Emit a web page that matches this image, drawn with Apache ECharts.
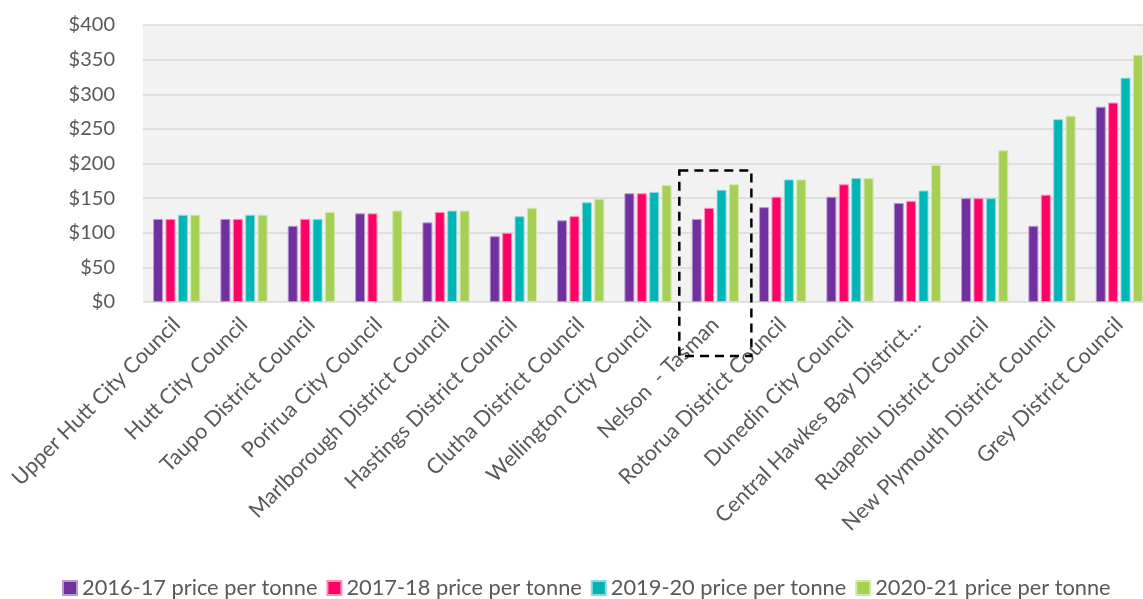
<!DOCTYPE html>
<html>
<head>
<meta charset="utf-8">
<script src="https://cdn.jsdelivr.net/npm/echarts@6/dist/echarts.min.js"></script>
<style>
html,body{margin:0;padding:0;background:#fff;}
#c{width:1143px;height:599px;}
</style>
</head>
<body>
<div id="c"></div>
<script>
const categories = [
  'Upper Hutt City Council','Hutt City Council','Taupo District Council','Porirua City Council',
  'Marlborough District Council','Hastings District Council','Clutha District Council',
  'Wellington City Council','Nelson  - Tasman','Rotorua District Council','Dunedin City Council',
  'Central Hawkes Bay District…','Ruapehu District Council','New Plymouth District Council','Grey District Council'
];
const seriesNames = ['2016-17 price per tonne','2017-18 price per tonne','2019-20 price per tonne','2020-21 price per tonne'];
const price2016 = [120,120,110,128,115,95,118,157,120,137,152,143,150,110,282];
const price2017 = [120,120,120,128,130,100,124,157,136,152,170,146,150,155,288];
const price2019 = [126,126,120,null,132,124,144,159,162,177,179,161,150,264,324];
const price2020 = [126,126,130,132,132,136,149,169,170,177,179,198,219,269,357];
const yTicks = [0,50,100,150,200,250,300,350,400];
const highlighted = 'Nelson  - Tasman';

const colors = ['#7030A0','#FF0066','#00B5B5','#A5CF55'];
const borders = ['#B89AD0','#FF8FB8','#8FDADA','#D2E8AA'];
const values = [price2016, price2017, price2019, price2020];
const font = 'Lato, "Open Sans", sans-serif';

const chart = echarts.init(document.getElementById('c'));
chart.setOption({
  animation: false,
  backgroundColor: '#ffffff',
  grid: {left: 143, width: 1010, top: 25, bottom: 297, show: true, backgroundColor: '#F2F2F2', borderWidth: 0,
         containLabel: false, outerBoundsMode: 'none'},
  legend: {
    top: 577, left: 62, padding: 0, itemWidth: 14, itemHeight: 14, itemGap: 9, icon: 'rect',
    textStyle: {fontFamily: font, fontSize: 21.8, color: '#595959'},
    data: seriesNames
  },
  xAxis: {
    type: 'category', data: categories,
    axisLine: {show: false}, axisTick: {show: false},
    axisLabel: {rotate: 45, interval: 0, margin: 19, fontFamily: font, fontSize: 21.5, color: '#595959'}
  },
  yAxis: {
    type: 'value', min: yTicks[0], max: yTicks[yTicks.length-1], interval: yTicks[1]-yTicks[0],
    axisLine: {show: false}, axisTick: {show: false},
    splitLine: {lineStyle: {color: '#D9D9D9', width: 1.5}},
    axisLabel: {formatter: v => '$' + v, fontFamily: font, fontSize: 20, color: '#595959', margin: 28}
  },
  series: seriesNames.map((n, i) => ({
    name: n, type: 'bar', data: values[i], barWidth: 10, barGap: '24%',
    itemStyle: {color: colors[i], borderColor: borders[i], borderWidth: 1}
  }))
});

function drawBox(){
  const idx = categories.indexOf(highlighted);
  const c = chart.convertToPixel({gridIndex: 0}, [idx, 190]);
  const base = chart.convertToPixel({gridIndex: 0}, [idx, 0]);
  const c1 = chart.convertToPixel({gridIndex: 0}, [idx + 1, 0]);
  const cw = c1[0] - c[0];
  const halfW = cw * 0.535;
  chart.setOption({graphic: [{
    type: 'rect', z: 100,
    shape: {x: c[0] - halfW, y: c[1], width: halfW * 2, height: base[1] + 54 - c[1]},
    style: {fill: 'none', stroke: '#000', lineWidth: 2.5, lineDash: [9, 6]}
  }]});
}
drawBox();
</script>
</body>
</html>
